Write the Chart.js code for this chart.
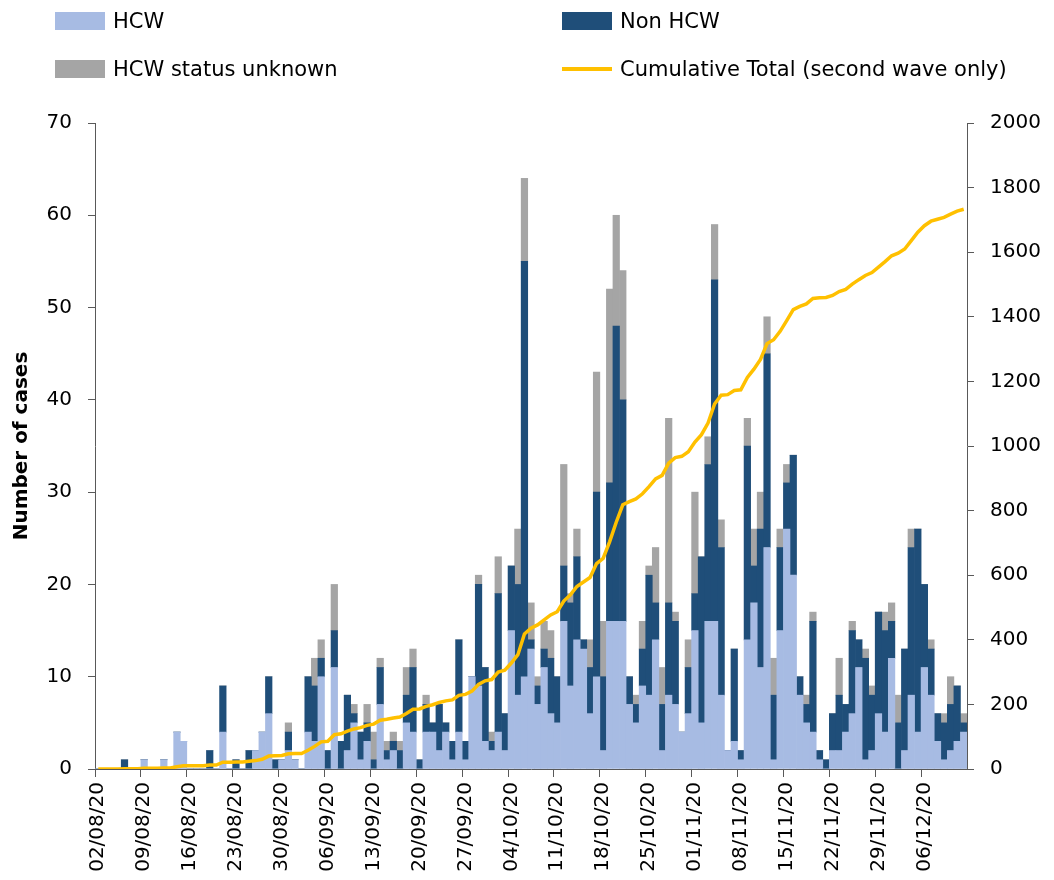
<!DOCTYPE html>
<html>
<head>
<meta charset="utf-8">
<script src="https://cdn.jsdelivr.net/npm/chart.js@4.4.1/dist/chart.umd.min.js"></script>
<style>
html,body{margin:0;padding:0;background:#fff;}
#wrap{position:relative;width:1054px;height:880px;overflow:hidden;}
#c{position:absolute;left:0;top:0;}
.item{position:absolute;display:flex;align-items:center;font-family:'DejaVu Sans',sans-serif;font-size:21px;color:#000;white-space:nowrap;line-height:1;}
.item .txt{margin-left:8px;}
</style>
</head>
<body>
<div id="wrap">
<canvas id="c" width="1054" height="880"></canvas>
<div id="legend"></div>
</div>
<script>
// ---------- DATA ----------
const dates = [
'02/08/20','03/08/20','04/08/20','05/08/20','06/08/20','07/08/20','08/08/20','09/08/20','10/08/20','11/08/20',
'12/08/20','13/08/20','14/08/20','15/08/20','16/08/20','17/08/20','18/08/20','19/08/20','20/08/20','21/08/20',
'22/08/20','23/08/20','24/08/20','25/08/20','26/08/20','27/08/20','28/08/20','29/08/20','30/08/20','31/08/20',
'01/09/20','02/09/20','03/09/20','04/09/20','05/09/20','06/09/20','07/09/20','08/09/20','09/09/20','10/09/20',
'11/09/20','12/09/20','13/09/20','14/09/20','15/09/20','16/09/20','17/09/20','18/09/20','19/09/20','20/09/20',
'21/09/20','22/09/20','23/09/20','24/09/20','25/09/20','26/09/20','27/09/20','28/09/20','29/09/20','30/09/20',
'01/10/20','02/10/20','03/10/20','04/10/20','05/10/20','06/10/20','07/10/20','08/10/20','09/10/20','10/10/20',
'11/10/20','12/10/20','13/10/20','14/10/20','15/10/20','16/10/20','17/10/20','18/10/20','19/10/20','20/10/20',
'21/10/20','22/10/20','23/10/20','24/10/20','25/10/20','26/10/20','27/10/20','28/10/20','29/10/20','30/10/20',
'31/10/20','01/11/20','02/11/20','03/11/20','04/11/20','05/11/20','06/11/20','07/11/20','08/11/20','09/11/20',
'10/11/20','11/11/20','12/11/20','13/11/20','14/11/20','15/11/20','16/11/20','17/11/20','18/11/20','19/11/20',
'20/11/20','21/11/20','22/11/20','23/11/20','24/11/20','25/11/20','26/11/20','27/11/20','28/11/20','29/11/20',
'30/11/20','01/12/20','02/12/20','03/12/20','04/12/20','05/12/20','06/12/20','07/12/20','08/12/20','09/12/20',
'10/12/20','11/12/20','12/12/20'
];

const tickLabels = ['02/08/20','09/08/20','16/08/20','23/08/20','30/08/20','06/09/20','13/09/20','20/09/20',
'27/09/20','04/10/20','11/10/20','18/10/20','25/10/20','01/11/20','08/11/20','15/11/20','22/11/20','29/11/20','06/12/20'];

const hcw = [
0,0,0,0,0,0,0,
1,0,0,1,0,4,3,
0,0,0,0,0,4,0,
0,0,0,2,4,6,0,
1,2,1,0,4,3,10,
0,11,0,2,5,1,3,
0,7,1,2,0,5,4,
0,4,4,2,4,1,4,
1,10,9,3,2,4,2,
15,8,10,13,7,11,6,
5,16,9,14,13,6,10,
2,16,16,16,7,5,9,
8,14,2,8,7,4,6,
15,5,16,16,8,2,3,
1,14,18,11,24,1,15,
26,21,8,5,4,1,0,
2,2,4,6,11,1,2,
6,4,12,0,2,8,4,
11,8,3,1,2,3,4
];

const nonHcw = [
0,0,0,0,1,0,0,
0,0,0,0,0,0,0,
0,0,0,2,0,5,0,
1,0,2,0,0,4,1,
0,2,0,0,6,6,2,
2,4,3,6,1,3,2,
1,4,1,1,2,3,7,
1,3,1,5,1,2,10,
2,0,11,8,1,15,4,
7,12,45,1,2,2,6,
5,6,9,9,1,5,20,
8,15,32,24,3,2,4,
13,4,5,10,9,0,5,
4,18,17,37,16,0,10,
1,21,4,15,21,7,9,
5,13,2,2,12,1,1,
4,6,3,9,3,11,6,
11,11,4,5,11,16,22,
9,5,3,4,5,6,1
];

const unknown = [
0,0,0,0,0,0,0,
0,0,0,0,0,0,0,
0,0,0,0,0,0,0,
0,0,0,0,0,0,0,
0,1,0,0,0,3,2,
0,5,0,0,1,0,2,
3,1,1,1,1,3,2,
0,1,0,0,0,0,0,
0,0,1,0,1,4,0,
0,6,9,4,1,3,3,
0,11,1,3,0,3,13,
6,21,12,14,0,1,3,
1,6,4,20,1,0,3,
11,0,3,6,3,0,0,
0,3,4,4,4,4,2,
2,0,0,1,1,0,0,
0,4,0,1,0,1,1,
0,2,2,3,0,2,0,
0,1,0,1,3,0,1
];

const cumulative = [
0,0,0,0,1,1,1,
2,2,2,3,3,7,10,
10,10,10,12,12,21,21,
22,22,24,26,30,40,41,
42,47,48,48,58,70,84,
86,106,109,117,124,128,135,
139,151,154,158,161,172,185,
186,194,199,206,211,214,228,
231,241,262,273,277,300,306,
328,354,418,436,446,462,477,
487,520,539,565,579,593,636,
652,704,764,818,828,836,852,
874,898,909,947,964,968,982,
1012,1035,1071,1130,1157,1159,1172,
1174,1212,1238,1268,1317,1329,1355,
1388,1422,1432,1440,1457,1459,1460,
1466,1478,1485,1501,1515,1528,1537,
1554,1571,1589,1597,1610,1636,1662,
1682,1696,1702,1708,1718,1727,1733
];

const seriesNames = ['HCW','Non HCW','HCW status unknown','Cumulative Total (second wave only)'];
const leftTicks = {min:0, max:70, step:10};
const rightTicks = {min:0, max:2000, step:200};
const yTitle = 'Number of cases';

// ---------- STYLE ----------
const colLight = '#A7BBE3';
const colDark = '#1F4E79';
const colGray = '#A5A5A5';
const colLine = '#FFC000';
const axisColor = '#595959';

// ---------- LEGEND (HTML) ----------
const legendSpec = [
  {name: seriesNames[0], color: colLight, kind: 'box', left: 55, top: 12},
  {name: seriesNames[1], color: colDark, kind: 'box', left: 562, top: 12},
  {name: seriesNames[2], color: colGray, kind: 'box', left: 55, top: 60},
  {name: seriesNames[3], color: colLine, kind: 'line', left: 562, top: 60}
];
const lg = document.getElementById('legend');
legendSpec.forEach(s => {
  const it = document.createElement('div');
  it.className = 'item';
  it.style.left = s.left + 'px';
  it.style.top = s.top + 'px';
  it.style.height = '18px';
  const sw = document.createElement('span');
  sw.style.display = 'inline-block';
  sw.style.width = '50px';
  sw.style.background = s.color;
  sw.style.height = s.kind === 'box' ? '18px' : '4px';
  it.appendChild(sw);
  const t = document.createElement('span');
  t.className = 'txt';
  t.textContent = s.name;
  it.appendChild(t);
  lg.appendChild(it);
});

// ---------- CHART ----------
Chart.defaults.font.family = "'DejaVu Sans', sans-serif";
Chart.defaults.font.size = 20;
Chart.defaults.color = '#000';

new Chart(document.getElementById('c'), {
  type: 'bar',
  data: {
    labels: dates,
    datasets: [
      {type: 'line', label: seriesNames[3], data: cumulative, yAxisID: 'y1',
       borderColor: colLine, backgroundColor: colLine, borderWidth: 3.5,
       pointRadius: 0, tension: 0, order: 0},
      {label: seriesNames[0], data: hcw, backgroundColor: colLight, yAxisID: 'y',
       stack: 's', order: 1, barPercentage: 1, categoryPercentage: 1, borderWidth: 0},
      {label: seriesNames[1], data: nonHcw, backgroundColor: colDark, yAxisID: 'y',
       stack: 's', order: 1, barPercentage: 1, categoryPercentage: 1, borderWidth: 0},
      {label: seriesNames[2], data: unknown, backgroundColor: colGray, yAxisID: 'y',
       stack: 's', order: 1, barPercentage: 1, categoryPercentage: 1, borderWidth: 0}
    ]
  },
  options: {
    responsive: false,
    animation: false,
    devicePixelRatio: 1,
    layout: {padding: {top: 123, left: 0, right: 0, bottom: 0}},
    plugins: {legend: {display: false}, tooltip: {enabled: false}},
    scales: {
      x: {
        stacked: true,
        offset: true,
        grid: {
          offset: true, drawOnChartArea: false, drawTicks: true, tickLength: 8,
          color: ctx => (ctx.index % 7 === 0 ? axisColor : 'rgba(0,0,0,0)')
        },
        border: {display: true, color: axisColor, width: 1},
        ticks: {
          autoSkip: false, maxRotation: 90, minRotation: 90, padding: 5,
          callback: (v, i) => (tickLabels.includes(dates[i]) ? dates[i] : '')
        },
        afterFit: s => { s.height = 111; }
      },
      y: {
        stacked: true, position: 'left',
        min: leftTicks.min, max: leftTicks.max,
        ticks: {stepSize: leftTicks.step, padding: 16, callback: v => String(v)},
        grid: {drawOnChartArea: false, tickLength: 7, color: axisColor},
        border: {display: true, color: axisColor, width: 1},
        title: {display: true, text: yTitle, font: {weight: 'bold', size: 20}, padding: {top: 10, bottom: 0}},
        afterFit: s => { s.width = 95; }
      },
      y1: {
        position: 'right',
        min: rightTicks.min, max: rightTicks.max,
        ticks: {stepSize: rightTicks.step, padding: 16, callback: v => String(v)},
        grid: {drawOnChartArea: false, tickLength: 7, color: axisColor},
        border: {display: true, color: axisColor, width: 1},
        afterFit: s => { s.width = 87; }
      }
    }
  }
});
</script>
</body>
</html>
